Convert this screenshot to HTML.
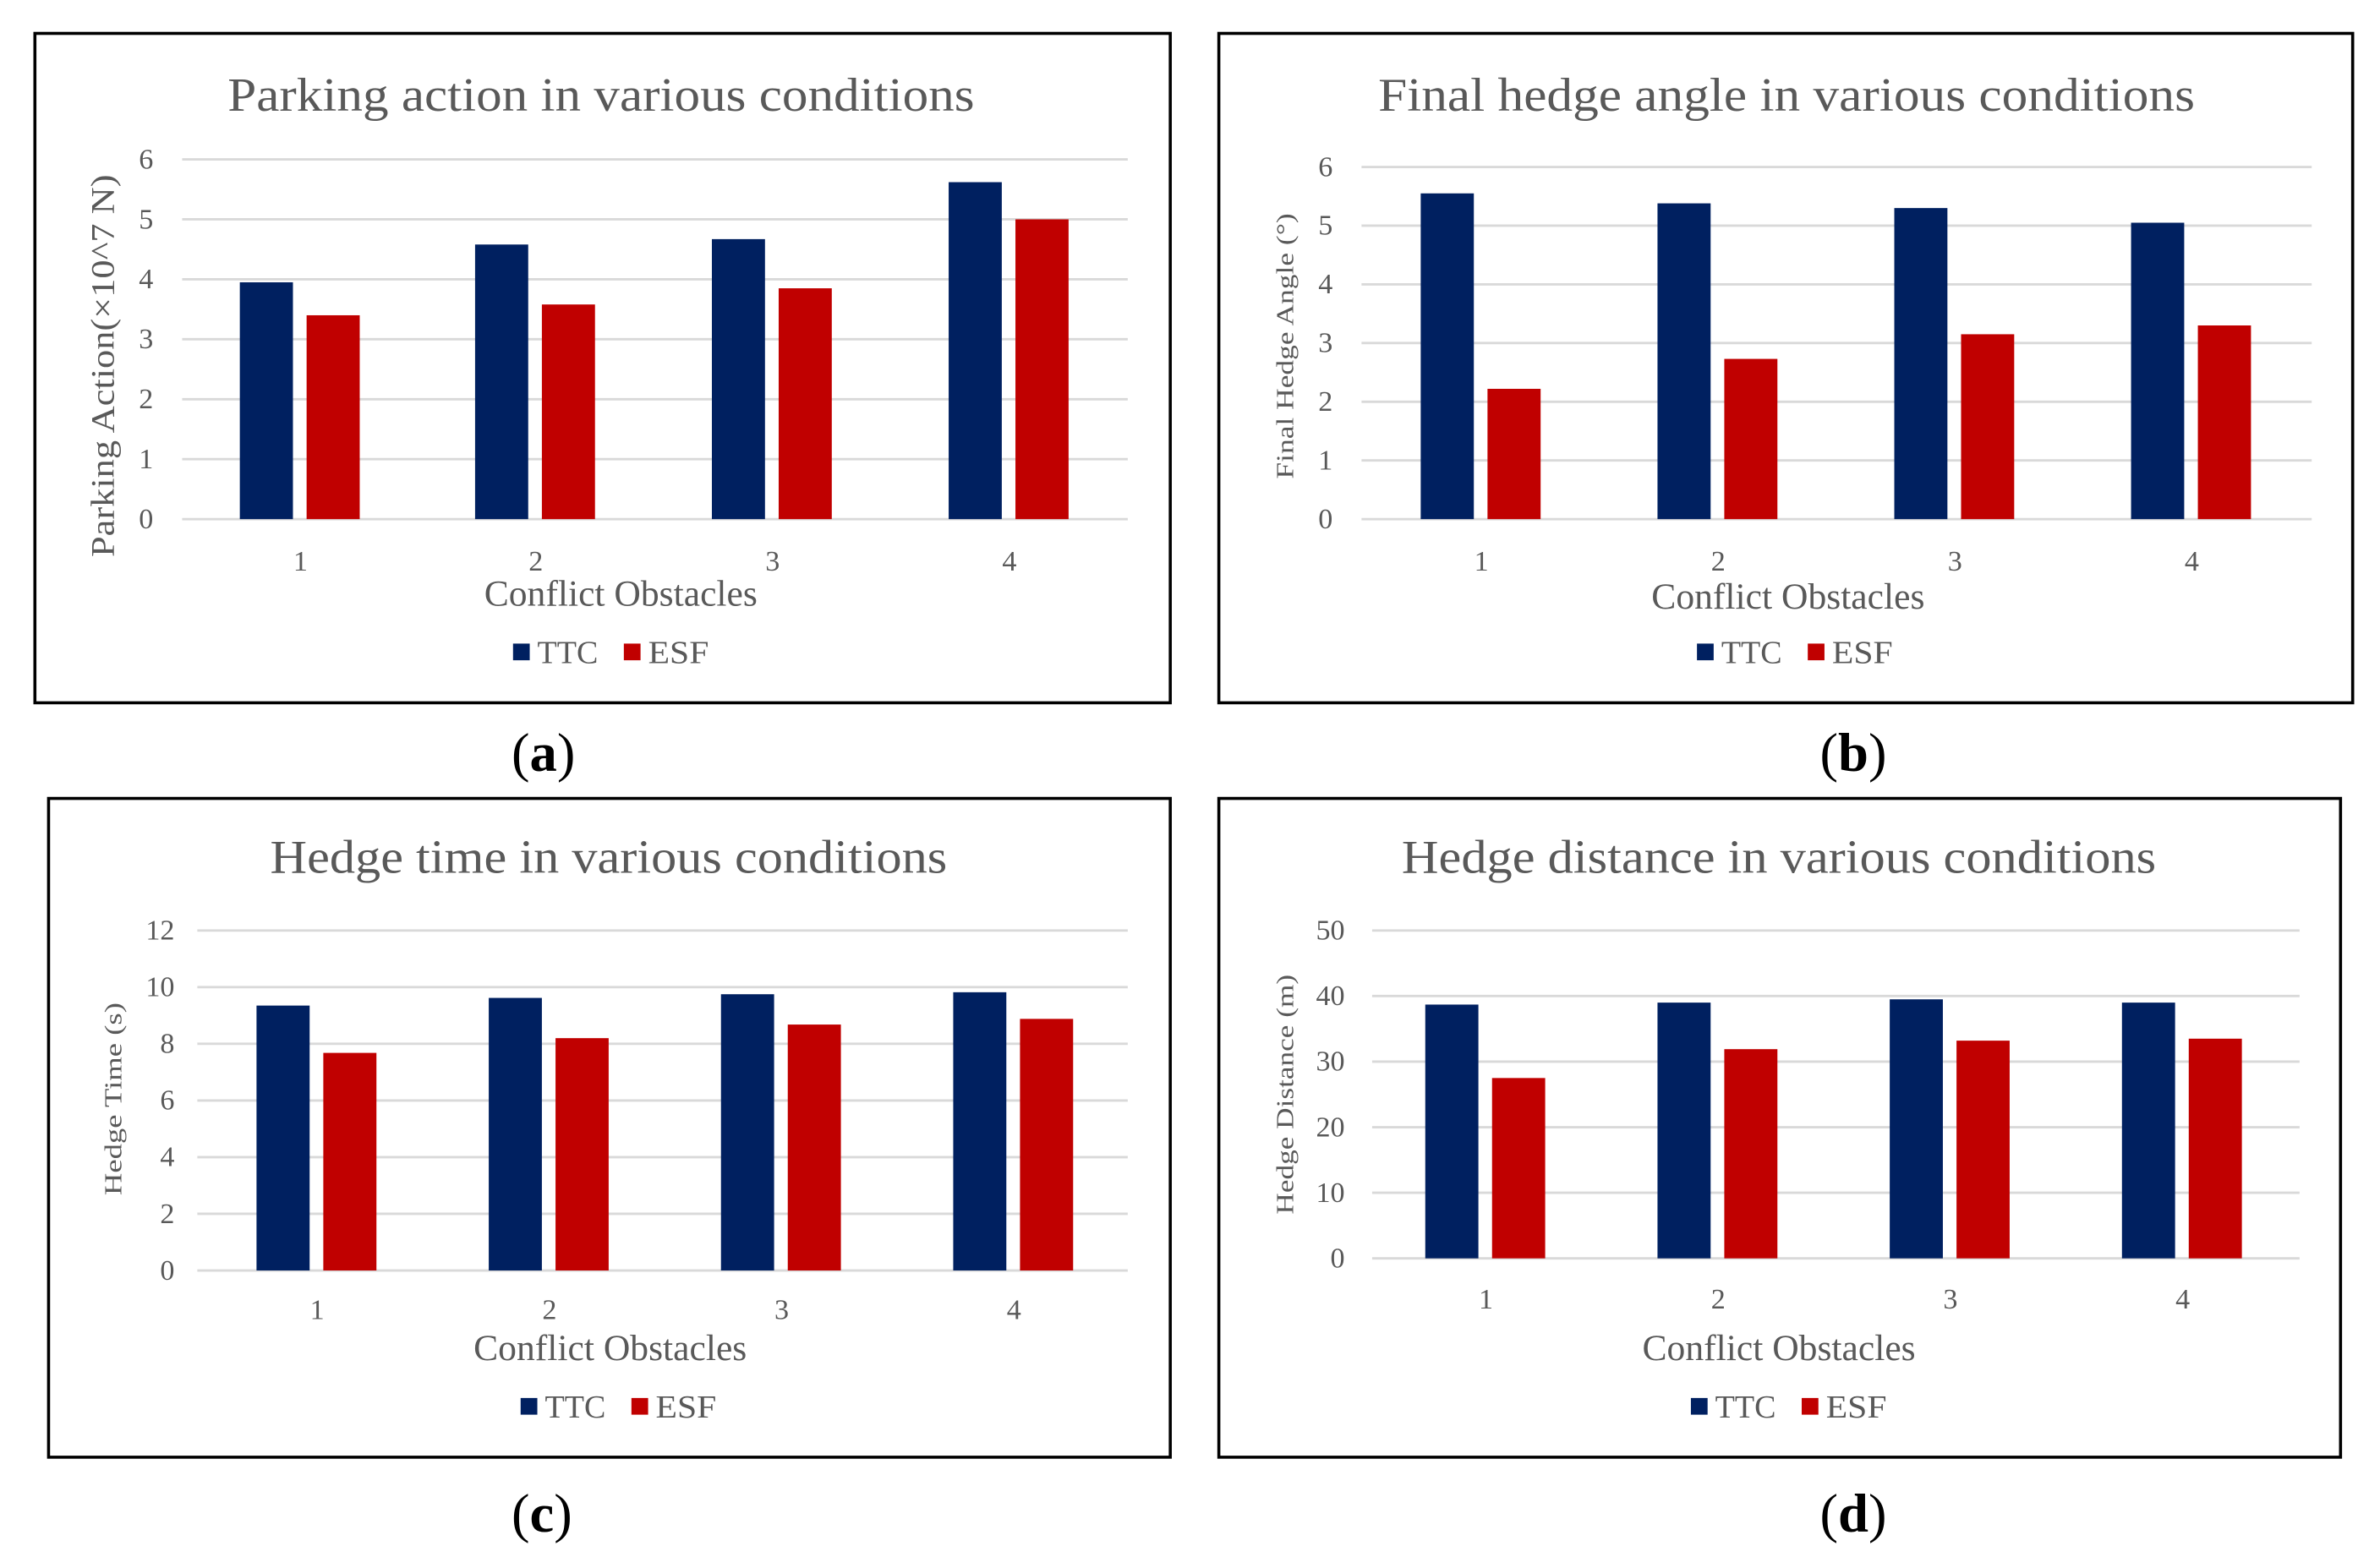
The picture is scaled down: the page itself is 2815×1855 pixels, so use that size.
<!DOCTYPE html>
<html><head><meta charset="utf-8"><style>
html,body{margin:0;padding:0;background:#fff;}
svg{display:block;}
text{font-family:"Liberation Serif",serif;}
</style></head>
<body>
<svg id="fig" width="2815" height="1855" viewBox="0 0 1568 1033" preserveAspectRatio="none" xmlns="http://www.w3.org/2000/svg"></svg>
<script>
const categories = ["1","2","3","4"];
const seriesNames = ["TTC","ESF"];
const parkingTTC = [3.95, 4.58, 4.67, 5.62];
const parkingESF = [3.4, 3.58, 3.85, 5.0];
const angleTTC = [5.55, 5.38, 5.3, 5.05];
const angleESF = [2.22, 2.73, 3.15, 3.3];
const timeTTC = [9.35, 9.62, 9.75, 9.82];
const timeESF = [7.68, 8.2, 8.68, 8.88];
const distTTC = [38.7, 39.0, 39.5, 39.0];
const distESF = [27.5, 31.9, 33.2, 33.5];
const ticksA = [0,1,2,3,4,5,6];
const ticksB = [0,1,2,3,4,5,6];
const ticksC = [0,2,4,6,8,10,12];
const ticksD = [0,10,20,30,40,50];

const NS = "http://www.w3.org/2000/svg";
const svg = document.getElementById('fig');
function el(tag, attrs, parent, txt){
  const e = document.createElementNS(NS, tag);
  for (const k in attrs) e.setAttribute(k, attrs[k]);
  if (txt !== undefined) e.textContent = txt;
  (parent||svg).appendChild(e);
  return e;
}
const panels = [
  {id:'a', box:[23,22,771,463], title:'Parking  action  in  various  conditions', titleY:73, titleX:396, titleW:492,
   gx:[120,743], gy:[342,105], ticks:ticksA, ttc:parkingTTC, esf:parkingESF, centers:[198,353,509,665],
   ytitle:'Parking Action(×10^7 N)', ytx:75, yty:241, yfs:22, ytW:252, tickX:101, xlabY:376, xtX:409, xtY:399, legY:430, legX:338, lab:[358,508]},
  {id:'b', box:[803,22,1550,463], title:'Final  hedge  angle  in  various  conditions', titleY:73, titleX:1177, titleW:538,
   gx:[897,1523], gy:[342,110], ticks:ticksB, ttc:angleTTC, esf:angleESF, centers:[976,1132,1288,1444],
   ytitle:'Final Hedge Angle (°)', ytx:852, yty:228, yfs:16, ytW:175, tickX:878, xlabY:376, xtX:1178, xtY:401, legY:430, legX:1118, lab:[1221,508]},
  {id:'c', box:[32,526,771,960], title:'Hedge  time  in  various  conditions', titleY:575, titleX:401, titleW:446,
   gx:[130,743], gy:[837,613], ticks:ticksC, ttc:timeTTC, esf:timeESF, centers:[209,362,515,668],
   ytitle:'Hedge Time (s)', ytx:80, yty:724, yfs:16, ytW:127, tickX:115, xlabY:869, xtX:402, xtY:896, legY:927, legX:343, lab:[357,1009]},
  {id:'d', box:[803,526,1542,960], title:'Hedge  distance  in  various  conditions', titleY:575, titleX:1172, titleW:497,
   gx:[904,1515], gy:[829,613], ticks:ticksD, ttc:distTTC, esf:distESF, centers:[979,1132,1285,1438],
   ytitle:'Hedge Distance (m)', ytx:852, yty:721, yfs:16, ytW:158, tickX:886, xlabY:862, xtX:1172, xtY:896, legY:927, legX:1114, lab:[1221,1009]}
];
panels.forEach(p=>{
  const g = el('g',{});
  
  
  const [x0,y0,x1,y1] = p.box;
  const frame = el('rect',{x:x0,y:y0,width:x1-x0,height:y1-y0,fill:'#fff',stroke:'#000','stroke-width':2},g);
  
  
  const t = el('text',{x:p.titleX,y:p.titleY,'text-anchor':'middle','font-size':31,fill:'#595959',textLength:p.titleW,lengthAdjust:'spacingAndGlyphs'},g,p.title);
  
  
  const tmax = p.ticks[p.ticks.length-1];
  const yScale = v => p.gy[0] - (v/tmax)*(p.gy[0]-p.gy[1]);
  p.ticks.forEach(tv=>{
    const yy = yScale(tv);
    const gl = el('line',{x1:p.gx[0],x2:p.gx[1],y1:yy,y2:yy,stroke:'#d9d9d9','stroke-width':1.6},g);
    
    
    const tl = el('text',{x:p.tickX,y:yy+6,'text-anchor':'end','font-size':19,fill:'#595959'},g,String(tv));
    
    
  });
  categories.forEach((c,i)=>{
    const cx = p.centers[i];
    const b1 = el('rect',{x:cx-40,y:yScale(p.ttc[i]),width:35,height:p.gy[0]-yScale(p.ttc[i]),fill:'#002060'},g);
    
    
    const b2 = el('rect',{x:cx+4,y:yScale(p.esf[i]),width:35,height:p.gy[0]-yScale(p.esf[i]),fill:'#c00000'},g);
    
    
    const xl = el('text',{x:cx,y:p.xlabY,'text-anchor':'middle','font-size':19,fill:'#595959'},g,c);
    
    
  });
  const xt = el('text',{x:p.xtX,y:p.xtY,'text-anchor':'middle','font-size':24,fill:'#595959',textLength:180,lengthAdjust:'spacingAndGlyphs'},g,'Conflict Obstacles');
  
  
  const yt = el('text',{x:p.ytx,y:p.yty,'text-anchor':'middle','font-size':p.yfs,fill:'#595959',textLength:p.ytW,lengthAdjust:'spacingAndGlyphs',transform:`rotate(-90 ${p.ytx} ${p.yty})`},g,p.ytitle);
  
  
  const cols = ['#002060','#c00000'];
  const offs = [0,73];
  seriesNames.forEach((s,k)=>{
    const lx = p.legX + offs[k];
    const sw = el('rect',{x:lx,y:p.legY-6,width:11,height:11,fill:cols[k]},g);
    
    
    const lt = el('text',{x:lx+16,y:p.legY+7,'font-size':21,fill:'#595959',textLength:40,lengthAdjust:'spacingAndGlyphs'},g,s);
    
    
  });
  const lab = el('text',{x:p.lab[0],y:p.lab[1],'text-anchor':'middle','font-size':36,fill:'#000'},g,'');
  
  
  el('tspan',{},lab,'(');
  el('tspan',{'font-weight':'bold'},lab,p.id);
  el('tspan',{},lab,')');
});
</script>
</body></html>
